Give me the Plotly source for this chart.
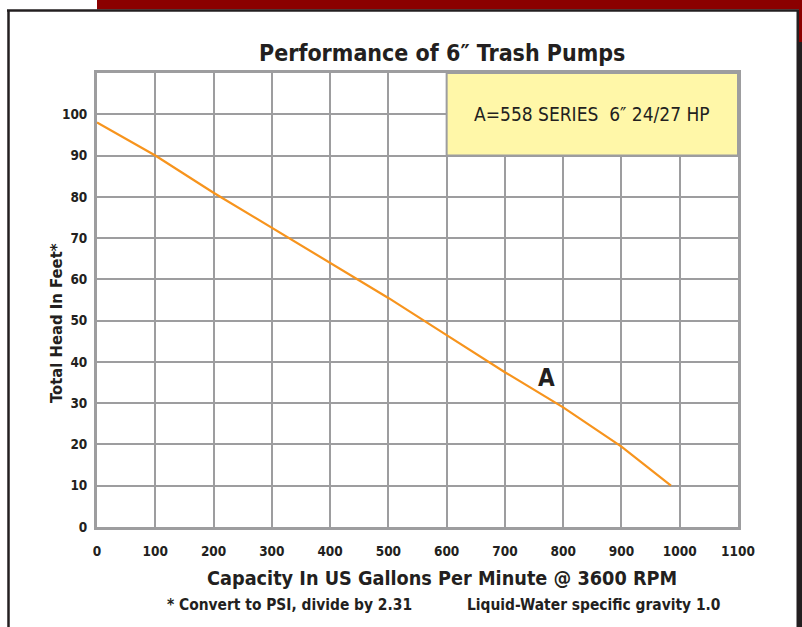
import plotly.graph_objects as go

# ---- data ----
capacity_gpm = [0, 100, 200, 300, 400, 500, 600, 700, 800, 900, 985]
head_ft = [98, 90, 81, 72.5, 64, 55.5, 46.5, 37.5, 29, 19.5, 10]
x_ticks = [0, 100, 200, 300, 400, 500, 600, 700, 800, 900, 1000, 1100]
y_ticks = [0, 10, 20, 30, 40, 50, 60, 70, 80, 90, 100]
title_text = "Performance of 6\u2033 Trash Pumps"
legend_text = "A=558 SERIES  6\u2033 24/27 HP"
curve_label = "A"

W, H = 802, 627
L, R, T, B = 97, 738, 73, 527   # plot area in pixels

def px(xp):
    return (xp - L) / (R - L)

def py(yp):
    return (B - yp) / (B - T)

COND = "DejaVu Sans Condensed, Liberation Sans Narrow, Arial Narrow, sans-serif"
DARK = "#231f20"
GRID = "#9d9d9f"
RED = "#8b0000"

fig = go.Figure()
fig.add_trace(go.Scatter(x=capacity_gpm, y=head_ft, mode="lines",
                         line=dict(color="#f7941d", width=2.2), hoverinfo="x+y",
                         showlegend=False))

shapes = [
    # legend box
    dict(type="rect", xref="x", yref="y", x0=600, x1=1100, y0=90, y1=110,
         fillcolor="#fff7a8", line=dict(color=GRID, width=2), layer="above"),
    # red header bar
    dict(type="rect", xref="paper", yref="paper", x0=px(97), x1=px(803), y0=py(-1), y1=py(9.5),
         fillcolor=RED, line=dict(width=0), layer="below"),
    dict(type="rect", xref="paper", yref="paper", x0=px(799), x1=px(803), y0=py(-1), y1=py(42),
         fillcolor=RED, line=dict(width=0), layer="below"),
    # right dark strip
    dict(type="rect", xref="paper", yref="paper", x0=px(796.5), x1=px(803), y0=py(42), y1=py(628),
         fillcolor="#231f20", line=dict(width=0), layer="below"),
    dict(type="rect", xref="paper", yref="paper", x0=px(796.5), x1=px(799), y0=py(10), y1=py(42),
         fillcolor="#231f20", line=dict(width=0), layer="below"),
    # top border
    dict(type="line", xref="paper", yref="paper", x0=px(7), x1=px(799), y0=py(10.5), y1=py(10.5),
         line=dict(color="#231f20", width=2.5)),
    # left border
    dict(type="line", xref="paper", yref="paper", x0=px(8.5), x1=px(8.5), y0=py(10), y1=py(628),
         line=dict(color="#231f20", width=2.5)),
]

annotations = [
    dict(text="<b>" + title_text + "</b>", xref="paper", yref="paper", x=px(442), y=py(53),
         showarrow=False, font=dict(family=COND, size=23, color=DARK),
         xanchor="center", yanchor="middle"),
    dict(text=legend_text, xref="x", yref="y", x=850, y=100, showarrow=False,
         font=dict(family=COND, size=19, color=DARK), xanchor="center", yanchor="middle"),
    dict(text="<b>" + curve_label + "</b>", xref="x", yref="y", x=772, y=36, showarrow=False,
         font=dict(family=COND, size=24, color=DARK), xanchor="center", yanchor="middle"),
    dict(text="<b>Total Head In Feet*</b>", xref="paper", yref="paper", x=px(56), y=py(323),
         showarrow=False, textangle=-90, font=dict(family=COND, size=16.5, color=DARK),
         xanchor="center", yanchor="middle"),
    dict(text="<b>Capacity In US Gallons Per Minute @ 3600 RPM</b>", xref="paper", yref="paper",
         x=px(442), y=py(578), showarrow=False, font=dict(family=COND, size=19.7, color=DARK),
         xanchor="center", yanchor="middle"),
    dict(text="<b>* Convert to PSI, divide by 2.31</b>", xref="paper", yref="paper",
         x=px(165), y=py(605), showarrow=False, font=dict(family=COND, size=15.4, color=DARK),
         xanchor="left", yanchor="middle"),
    dict(text="<b>Liquid-Water specific gravity 1.0</b>", xref="paper", yref="paper",
         x=px(465), y=py(605), showarrow=False, font=dict(family=COND, size=15.4, color=DARK),
         xanchor="left", yanchor="middle"),
]

tickfont = dict(family=COND, size=13.5, color=DARK, weight="bold")

fig.update_layout(
    width=W, height=H,
    margin=dict(l=L, r=W - R, t=T, b=H - B, pad=0),
    paper_bgcolor="white", plot_bgcolor="white",
    shapes=shapes, annotations=annotations,
    xaxis=dict(range=[0, 1100], tickvals=x_ticks, ticktext=[str(v) for v in x_ticks],
               showgrid=True, gridcolor=GRID, gridwidth=2, zeroline=False,
               showline=True, mirror=True, linecolor=GRID, linewidth=3,
               ticks="", ticklabelstandoff=10, tickfont=tickfont, fixedrange=True),
    yaxis=dict(range=[0, 110], tickvals=y_ticks, ticktext=[str(v) for v in y_ticks],
               showgrid=True, gridcolor=GRID, gridwidth=2, zeroline=False,
               showline=True, mirror=True, linecolor=GRID, linewidth=3,
               ticks="", ticklabelstandoff=4, tickfont=tickfont, fixedrange=True),
)

fig.write_html("out.html", config={"displayModeBar": False},
               post_script="document.body.style.margin='0';")
